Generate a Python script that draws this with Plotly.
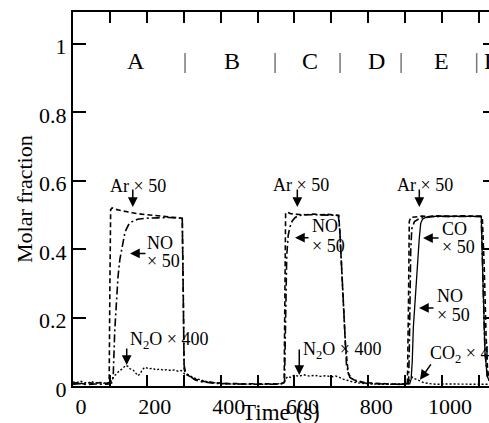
import plotly.graph_objects as go

# ---------------- data ----------------
ar_t = [0, 15, 30, 45, 60, 75, 90, 98, 100, 102, 106, 115, 130, 145, 160, 175,
        190, 205, 220, 235, 250, 265, 280, 296, 299, 301, 305, 315, 330, 350, 380, 420,
        470, 520, 560, 572, 574, 576, 580, 590, 610, 630, 650, 670, 690, 710, 720, 723,
        730, 738, 746, 760, 790, 830, 870, 900, 906, 909, 911, 915, 925, 945, 965, 985,
        1005, 1025, 1045, 1065, 1085, 1105, 1109, 1114, 1119, 1123, 1127]
ar_v = [0.008, 0.01, 0.006, 0.009, 0.007, 0.01, 0.008, 0.01, 0.3, 0.515, 0.52, 0.516, 0.512, 0.51, 0.506, 0.503,
        0.501, 0.5, 0.497, 0.496, 0.494, 0.493, 0.492, 0.49, 0.25, 0.05, 0.035, 0.028, 0.02, 0.014, 0.01, 0.007,
        0.006, 0.005, 0.006, 0.01, 0.3, 0.505, 0.508, 0.503, 0.501, 0.5, 0.502, 0.5, 0.501, 0.5, 0.498, 0.45,
        0.3, 0.12, 0.035, 0.018, 0.01, 0.007, 0.005, 0.005, 0.008, 0.25, 0.48, 0.492, 0.494, 0.496, 0.495, 0.497,
        0.496, 0.495, 0.497, 0.496, 0.497, 0.496, 0.49, 0.35, 0.15, 0.05, 0.02]

no_t = [0, 20, 40, 60, 80, 100, 106, 109, 113, 118, 122, 127, 132, 141, 150, 160,
        175, 200, 230, 260, 296, 299, 301, 305, 315, 330, 350, 380, 420, 470, 520, 560,
        573, 575, 577, 579, 583, 588, 594, 602, 612, 630, 660, 690, 719, 723, 732, 741,
        750, 770, 800, 840, 880, 905, 909, 911, 913, 915, 918, 925, 940, 970, 1000, 1040,
        1080, 1106, 1110, 1116, 1122, 1127]
no_v = [0.005, 0.007, 0.004, 0.006, 0.005, 0.006, 0.01, 0.03, 0.16, 0.26, 0.32, 0.37, 0.4, 0.45, 0.47, 0.48,
        0.487, 0.49, 0.491, 0.492, 0.49, 0.25, 0.06, 0.04, 0.03, 0.018, 0.012, 0.008, 0.006, 0.005, 0.005, 0.005,
        0.01, 0.15, 0.3, 0.38, 0.44, 0.465, 0.482, 0.492, 0.498, 0.5, 0.5, 0.5, 0.498, 0.45, 0.25, 0.06,
        0.025, 0.012, 0.007, 0.005, 0.005, 0.005, 0.008, 0.1, 0.27, 0.4, 0.46, 0.48, 0.49, 0.494, 0.495, 0.496,
        0.495, 0.494, 0.32, 0.1, 0.03, 0.015]

co_t = [880, 900, 912, 916, 919, 922, 926, 930, 934, 938, 942, 947, 955, 970, 1000, 1040,
        1080, 1106, 1110, 1116, 1122, 1127]
co_v = [0.004, 0.005, 0.006, 0.02, 0.07, 0.17, 0.24, 0.31, 0.37, 0.43, 0.475, 0.487, 0.492, 0.495, 0.496, 0.495,
        0.496, 0.495, 0.33, 0.1, 0.03, 0.015]

n2o_t = [0, 10, 20, 30, 40, 50, 60, 70, 80, 90, 100, 104, 110, 118, 126, 134, 142, 148, 155, 162,
         170, 176, 182, 188, 195, 205, 215, 225, 235, 245, 255, 265, 275, 285, 293, 298, 303, 310, 320, 332,
         345, 360, 380, 400, 430, 460, 490, 520, 550, 572, 576, 582, 590, 600, 612, 625, 640, 655, 670, 685,
         700, 712, 722, 732, 745, 760, 780, 800, 830, 860, 880]
n2o_v = [0.012, 0.009, 0.014, 0.01, 0.008, 0.013, 0.009, 0.011, 0.007, 0.01, 0.008, 0.015, 0.028, 0.035, 0.045, 0.05, 0.06, 0.058, 0.05, 0.048,
         0.038, 0.03, 0.036, 0.048, 0.055, 0.05, 0.052, 0.047, 0.05, 0.046, 0.048, 0.045, 0.047, 0.043, 0.045, 0.04, 0.035, 0.033, 0.027, 0.022,
         0.018, 0.013, 0.01, 0.007, 0.006, 0.005, 0.006, 0.005, 0.006, 0.008, 0.02, 0.028, 0.025, 0.032, 0.028, 0.033, 0.029, 0.031, 0.028, 0.03,
         0.027, 0.029, 0.025, 0.02, 0.016, 0.011, 0.008, 0.006, 0.005, 0.005, 0.005]

co2_t = [880, 895, 905, 910, 915, 920, 925, 932, 940, 950, 965, 985, 1010, 1040, 1070, 1100, 1127]
co2_v = [0.005, 0.006, 0.008, 0.015, 0.022, 0.026, 0.022, 0.018, 0.014, 0.01, 0.007, 0.005, 0.006, 0.005, 0.006, 0.005, 0.005]

# axis ticks
x_tick_vals = [0, 100, 200, 300, 400, 500, 600, 700, 800, 900, 1000, 1100]
x_tick_text = ["0", "", "200", "", "400", "", "600", "", "800", "", "1000", ""]
y_tick_vals = [0, 0.2, 0.4, 0.6, 0.8, 1.0]
y_tick_text = ["0", "0.2", "0.4", "0.6", "0.8", "1"]

# periods
period_labels = ["A", "B", "C", "D", "E", "F"]
period_label_x = [171, 431, 642, 823, 999, 1108]
period_bounds = [303.5, 547.4, 723.5, 888.9, 1093.6]

# labels: (text, x, y, anchor)
label_items = [
    ("Ar × 50", 174.8, 0.584, "center"),
    ("Ar × 50", 619, 0.587, "center"),
    ("Ar × 50", 953.7, 0.587, "center"),
    ("NO", 195, 0.418, "left"),
    ("× 50", 195, 0.366, "left"),
    ("NO", 642, 0.468, "left"),
    ("× 50", 642, 0.410, "left"),
    ("CO", 994, 0.457, "left"),
    ("× 50", 994, 0.407, "left"),
    ("NO", 981, 0.263, "left"),
    ("× 50", 981, 0.208, "left"),
    ("N<sub>2</sub>O × 400", 149, 0.134, "left"),
    ("N<sub>2</sub>O × 400", 617, 0.105, "left"),
    ("CO<sub>2</sub> × 400", 962, 0.093, "left"),
]
# arrows: (tip x, tip y, ax px, ay px)
arrow_items = [
    (162, 0.523, 0, -19),
    (607.7, 0.523, 0, -19),
    (938.2, 0.523, 0, -19),
    (154.4, 0.387, 17, 0),
    (601.5, 0.433, 15, 0),
    (948.3, 0.432, 17, 0),
    (937.4, 0.228, 16, 0),
    (145.5, 0.061, 0, -18),
    (613, 0.032, 0, -27),
    (940, 0.018, 12, -17),
]

FONT = "Liberation Serif"

fig = go.Figure()
fig.add_trace(go.Scatter(x=n2o_t, y=n2o_v, mode="lines",
                         line=dict(color="black", width=1.4, dash="2px,2px")))
fig.add_trace(go.Scatter(x=co2_t, y=co2_v, mode="lines",
                         line=dict(color="black", width=1.4, dash="2px,2px")))
fig.add_trace(go.Scatter(x=co_t, y=co_v, mode="lines",
                         line=dict(color="black", width=1.3)))
fig.add_trace(go.Scatter(x=no_t, y=no_v, mode="lines",
                         line=dict(color="black", width=1.6, dash="8px,3px,2px,3px")))
fig.add_trace(go.Scatter(x=ar_t, y=ar_v, mode="lines",
                         line=dict(color="black", width=1.6, dash="5px,3px")))
fig.add_trace(go.Scatter(x=[0], y=[0], yaxis="y2", mode="lines",
                         line=dict(color="rgba(0,0,0,0)"), hoverinfo="skip"))

annotations = []
for txt, x, y, anc in label_items:
    annotations.append(dict(text=txt, x=x, y=y, xref="x", yref="y", xanchor=anc,
                            yanchor="middle", showarrow=False,
                            font=dict(family=FONT, size=18, color="black")))
for tx, ty, ax, ay in arrow_items:
    annotations.append(dict(text="", x=tx, y=ty, xref="x", yref="y", ax=ax, ay=ay,
                            showarrow=True, arrowhead=2, arrowsize=1.3, arrowwidth=1.5,
                            arrowcolor="black", standoff=0))
for lab, lx in zip(period_labels, period_label_x):
    annotations.append(dict(text=lab, x=lx, y=0.949, xref="x", yref="y",
                            xanchor="left" if lab == "F" else "center", yanchor="middle",
                            showarrow=False, font=dict(family=FONT, size=24, color="black")))
annotations.append(dict(text="Molar fraction", textangle=-90, x=-0.1178, y=0.5,
                        xref="paper", yref="paper", xanchor="center", yanchor="middle",
                        showarrow=False, font=dict(family=FONT, size=22, color="black")))
annotations.append(dict(text="Time (s)", x=0.5, y=0, xref="paper", yref="paper",
                        xanchor="center", yanchor="top", yshift=-12, showarrow=False,
                        font=dict(family=FONT, size=23, color="black")))

shapes = []
for b in period_bounds:
    shapes.append(dict(type="line", x0=b, x1=b, y0=0.914, y1=0.972, xref="x", yref="y",
                       line=dict(color="#777777", width=1.5)))

fig.update_layout(
    width=489, height=423,
    margin=dict(l=73, r=0, t=12, b=37),
    plot_bgcolor="white", paper_bgcolor="white",
    showlegend=False,
    annotations=annotations,
    shapes=shapes,
    xaxis=dict(range=[0, 1127], tickvals=x_tick_vals, ticktext=x_tick_text,
               ticks="inside", ticklen=11, tickwidth=1.5, tickcolor="black",
               ticklabelshift=8,
               showline=True, linewidth=2, linecolor="black", mirror="ticks",
               showgrid=False, zeroline=False,
               tickfont=dict(family=FONT, size=22, color="black")),
    yaxis=dict(range=[0, 1.092], tickvals=y_tick_vals, ticktext=y_tick_text,
               ticks="inside", ticklen=13, tickwidth=1.5, tickcolor="black",
               ticklabelshift=3,
               showline=True, linewidth=2, linecolor="black", mirror=False,
               showgrid=False, zeroline=False,
               tickfont=dict(family=FONT, size=22, color="black")),
    yaxis2=dict(range=[0, 1.092], overlaying="y", side="right", anchor="x",
                tickvals=[0.2, 0.4, 0.6, 0.8, 1.0], ticks="inside", ticklen=6,
                tickwidth=1.5, tickcolor="black", showticklabels=False,
                showline=False, showgrid=False, zeroline=False),
)

fig.write_html("out.html")
